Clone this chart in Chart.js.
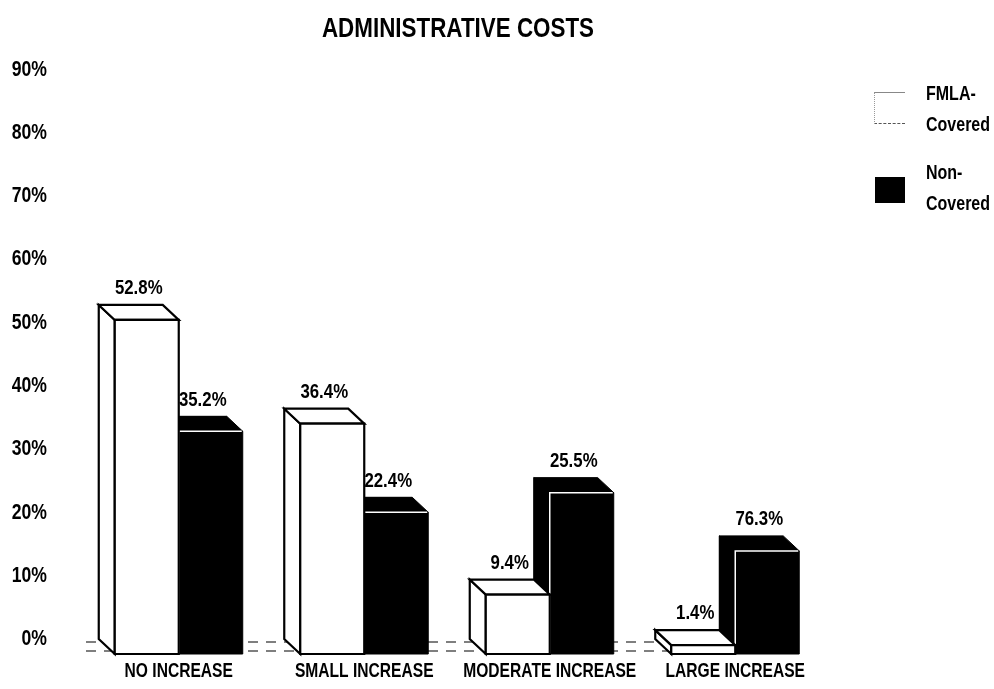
<!DOCTYPE html>
<html>
<head>
<meta charset="utf-8">
<script src="https://cdn.jsdelivr.net/npm/chart.js@4.4.1/dist/chart.umd.min.js"></script>
<style>
  html, body { margin: 0; padding: 0; background: #fff; }
  #wrap { position: relative; width: 994px; height: 689px; }
  canvas { position: absolute; left: 0; top: 0; }
  .lg { position: absolute; font-family: "Liberation Sans", Arial, sans-serif; font-weight: bold; font-size: 20px; line-height: 31px; color: #000; transform: scaleX(0.8); transform-origin: 0 0; white-space: nowrap; }
  .box { position: absolute; }
</style>
</head>
<body>
<div id="wrap">
  <canvas id="c" width="994" height="689"></canvas>
  <div class="box" style="left:874px;top:92px;width:30px;height:30px;border-top:1px solid #888;border-bottom:1.5px dashed #555;border-left:1px dotted #999;"></div>
  <div class="lg" style="left:926px;top:78px;">FMLA-<br>Covered</div>
  <div class="box" style="left:875px;top:177px;width:30px;height:26px;background:#000;"></div>
  <div class="lg" style="left:926px;top:157px;">Non-<br>Covered</div>
</div>
<script>
// ---- data ----
const categories = ['NO INCREASE', 'SMALL INCREASE', 'MODERATE INCREASE', 'LARGE INCREASE'];
const fmlaCovered = [52.8, 36.4, 9.4, 1.4];
const nonCovered = [35.2, 22.4, 25.5, 16.3];
const fmlaLabels = ['52.8%', '36.4%', '9.4%', '1.4%'];
const nonLabels = ['35.2%', '22.4%', '25.5%', '76.3%'];
const seriesNames = ['FMLA-Covered', 'Non-Covered'];
const yMin = 0, yMax = 90, yStep = 10;

const FONT = '"Liberation Sans", Arial, sans-serif';
const SQUEEZE = 0.8;   // condensed look for all canvas text
const DX = 16, DY = 15;

function poly(ctx, pts) {
  ctx.beginPath();
  ctx.moveTo(pts[0][0], pts[0][1]);
  for (let i = 1; i < pts.length; i++) ctx.lineTo(pts[i][0], pts[i][1]);
  ctx.closePath();
}

const condensedText = {
  id: 'condensedText',
  beforeInit(chart) {
    const ctx = chart.ctx;
    if (ctx.__squeezed) return;
    const orig = ctx.fillText.bind(ctx);
    ctx.fillText = function (text, x, y, maxWidth) {
      this.save();
      this.translate(x, y);
      this.scale(SQUEEZE, 1);
      if (maxWidth === undefined) orig(text, 0, 0);
      else orig(text, 0, 0, maxWidth / SQUEEZE);
      this.restore();
    };
    ctx.__squeezed = true;
  }
};

const bars3d = {
  id: 'bars3d',
  beforeDatasetsDraw(chart) {
    const { ctx, chartArea, scales } = chart;
    const y0 = scales.y.getPixelForValue(0);
    ctx.save();
    ctx.strokeStyle = '#555';
    ctx.lineWidth = 1.5;
    ctx.setLineDash([10, 8]);
    ctx.beginPath();
    ctx.moveTo(chartArea.left + 16, y0 + 3);
    ctx.lineTo(chartArea.right - 10, y0 + 3);
    ctx.moveTo(chartArea.left + 16, y0 + DY - 3);
    ctx.lineTo(chartArea.right - 10, y0 + DY - 3);
    ctx.stroke();
    ctx.restore();
  },
  afterDatasetsDraw(chart) {
    const ctx = chart.ctx;
    // dark series first (behind), then white series
    [1, 0].forEach(di => {
      const meta = chart.getDatasetMeta(di);
      const dark = di === 1;
      meta.data.forEach(bar => {
        const p = bar.getProps(['x', 'y', 'base', 'width'], true);
        const l = p.x - p.width / 2, r = p.x + p.width / 2, t = p.y, b = p.base;
        ctx.save();
        ctx.lineJoin = 'miter';
        const faces = [
          [[l, t], [l + DX, t + DY], [l + DX, b + DY], [l, b]],            // side
          [[l, t], [r, t], [r + DX, t + DY], [l + DX, t + DY]],            // top
          [[l + DX, t + DY], [r + DX, t + DY], [r + DX, b + DY], [l + DX, b + DY]] // front
        ];
        faces.forEach(f => {
          poly(ctx, f);
          ctx.fillStyle = dark ? '#000' : '#fff';
          ctx.fill();
          ctx.strokeStyle = '#000';
          ctx.lineWidth = dark ? 1 : 2.2;
          ctx.stroke();
        });
        if (dark) {
          ctx.strokeStyle = '#fff';
          ctx.lineWidth = 1.5;
          ctx.beginPath();
          ctx.moveTo(l + DX, b + DY - 1);
          ctx.lineTo(l + DX, t + DY);
          ctx.lineTo(r + DX - 1, t + DY);
          ctx.stroke();
        }
        ctx.restore();
      });
    });
    // value labels
    ctx.save();
    ctx.font = 'bold 21px ' + FONT;
    ctx.fillStyle = '#000';
    ctx.textAlign = 'center';
    ctx.textBaseline = 'bottom';
    [[0, fmlaLabels], [1, nonLabels]].forEach(([di, labs]) => {
      chart.getDatasetMeta(di).data.forEach((bar, i) => {
        const p = bar.getProps(['x', 'y'], true);
        ctx.fillText(labs[i], p.x + DX / 2, p.y - 6);
      });
    });
    ctx.restore();
  }
};

new Chart(document.getElementById('c'), {
  type: 'bar',
  data: {
    labels: categories,
    datasets: [
      { label: seriesNames[0], data: fmlaCovered, backgroundColor: '#fff', borderWidth: 0 },
      { label: seriesNames[1], data: nonCovered, backgroundColor: '#000', borderWidth: 0 }
    ]
  },
  options: {
    responsive: false,
    animation: false,
    devicePixelRatio: 1,
    categoryPercentage: 0.69,
    barPercentage: 1.0,
    layout: { padding: { left: 0, right: 78, top: 0, bottom: 0 } },
    plugins: {
      legend: { display: false },
      tooltip: { enabled: false },
      title: {
        display: true,
        text: 'ADMINISTRATIVE COSTS',
        color: '#000',
        font: { family: FONT, size: 28, weight: 'bold' },
        padding: { top: 12, bottom: 24 }
      }
    },
    scales: {
      x: {
        grid: { display: false, drawTicks: false },
        border: { display: false },
        ticks: {
          color: '#000',
          labelOffset: 16,
          padding: 21,
          maxRotation: 0,
          autoSkip: false,
          font: { family: FONT, size: 19.5, weight: 'bold' }
        },
        afterFit(s) { s.height = 50; }
      },
      y: {
        min: yMin,
        max: yMax,
        grid: { display: false, drawTicks: false },
        border: { display: false },
        ticks: {
          stepSize: yStep,
          color: '#000',
          padding: 23,
          font: { family: FONT, size: 22, weight: 'bold' },
          callback: v => v + '%'
        },
        afterFit(s) { s.width = 70; }
      },
      yRight: {
        position: 'right',
        display: true,
        grid: { display: false, drawTicks: false },
        border: { display: false },
        ticks: { display: false },
        afterFit(s) { s.width = 104; }
      }
    }
  },
  plugins: [condensedText, bars3d]
});
</script>
</body>
</html>
